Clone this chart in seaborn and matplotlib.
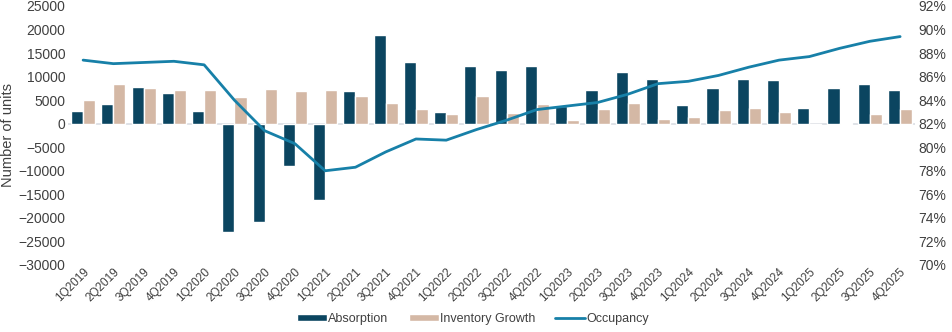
import matplotlib
matplotlib.use("Agg")
import matplotlib.pyplot as plt
import seaborn as sns
import pandas as pd
from matplotlib.patches import Patch
from matplotlib.lines import Line2D
from matplotlib.ticker import FuncFormatter, MultipleLocator

quarters = [f"{q}Q{y}" for y in range(2019, 2026) for q in range(1, 5)]
absorption = [2600, 4250, 7800, 6500, 2760, -23100, -20800, -9000, -16300, 6860,
              18900, 13160, 2470, 12170, 11400, 12300, 3700, 7200, 11040, 9400,
              4030, 7640, 9550, 9260, 3250, 7640, 8400, 7200]
inventory_growth = [4950, 8500, 7640, 7070, 7200, 5590, 7350, 6860, 7070, 5870,
                    4380, 3100, 1980, 5870, 2190, 4250, 850, 3100, 4380, 980,
                    1490, 2970, 3250, 2400, -200, 200, 1980, 3100]
occupancy = [87.4, 87.1, 87.2, 87.3, 87.0, 84.0, 81.4, 80.3, 78.0, 78.3,
             79.6, 80.7, 80.6, 81.5, 82.3, 83.2, 83.5, 83.8, 84.5, 85.4,
             85.6, 86.1, 86.8, 87.4, 87.7, 88.4, 89.0, 89.4]

c_abs = "#0b4560"
c_inv = "#d4b8a5"
c_occ = "#1780a8"
txt = "#404040"

sns.set_theme(style="white")
plt.rcParams["font.family"] = ["Liberation Sans", "DejaVu Sans"]

df = pd.DataFrame({
    "Quarter": quarters * 2,
    "Value": absorption + inventory_growth,
    "Series": ["Absorption"] * len(quarters) + ["Inventory Growth"] * len(quarters),
})

fig = plt.figure(figsize=(9.52, 3.32), dpi=100)
ax = fig.add_axes([0.0714, 0.202, 0.890, 0.780])

sns.barplot(data=df, x="Quarter", y="Value", hue="Series", order=quarters,
            palette={"Absorption": c_abs, "Inventory Growth": c_inv},
            width=0.8, ax=ax, legend=False, saturation=1)

ax.set_ylim(-30000, 25000)
ax.yaxis.set_major_locator(MultipleLocator(5000))
ax.set_xlim(-0.5, len(quarters) - 0.5)
ax.axhline(0, color="#d9dde3", lw=1.2, zorder=0.5)
for s in ax.spines.values():
    s.set_visible(False)
ax.set_xlabel("")
ax.set_ylabel("Number of units", fontsize=10.5, color=txt, labelpad=2)
ax.tick_params(axis="y", labelsize=10, colors=txt, length=0, pad=2)
ax.tick_params(axis="x", labelsize=8.5, colors=txt, length=0, pad=1)
plt.setp(ax.get_xticklabels(), rotation=45, ha="right", rotation_mode="anchor")

ax2 = ax.twinx()
sns.lineplot(x=list(range(len(quarters))), y=occupancy, ax=ax2, color=c_occ, lw=2)
ax2.set_ylim(70, 92)
ax2.yaxis.set_major_locator(MultipleLocator(2))
ax2.yaxis.set_major_formatter(FuncFormatter(lambda v, p: f"{v:.0f}%"))
ax2.tick_params(axis="y", labelsize=10, colors=txt, length=0, pad=2)
for s in ax2.spines.values():
    s.set_visible(False)
ax2.set_xlim(-0.5, len(quarters) - 0.5)

handles = [Patch(facecolor=c_abs, label="Absorption"),
           Patch(facecolor=c_inv, label="Inventory Growth"),
           Line2D([0], [0], color=c_occ, lw=2, label="Occupancy")]
leg = fig.legend(handles=handles, loc="center", bbox_to_anchor=(0.497, 0.04), ncol=3,
                 frameon=False, fontsize=9, handlelength=2.4, handleheight=0.55,
                 columnspacing=1.6, handletextpad=0.1)
for t in leg.get_texts():
    t.set_color(txt)

fig.savefig("out.png", dpi=100)
